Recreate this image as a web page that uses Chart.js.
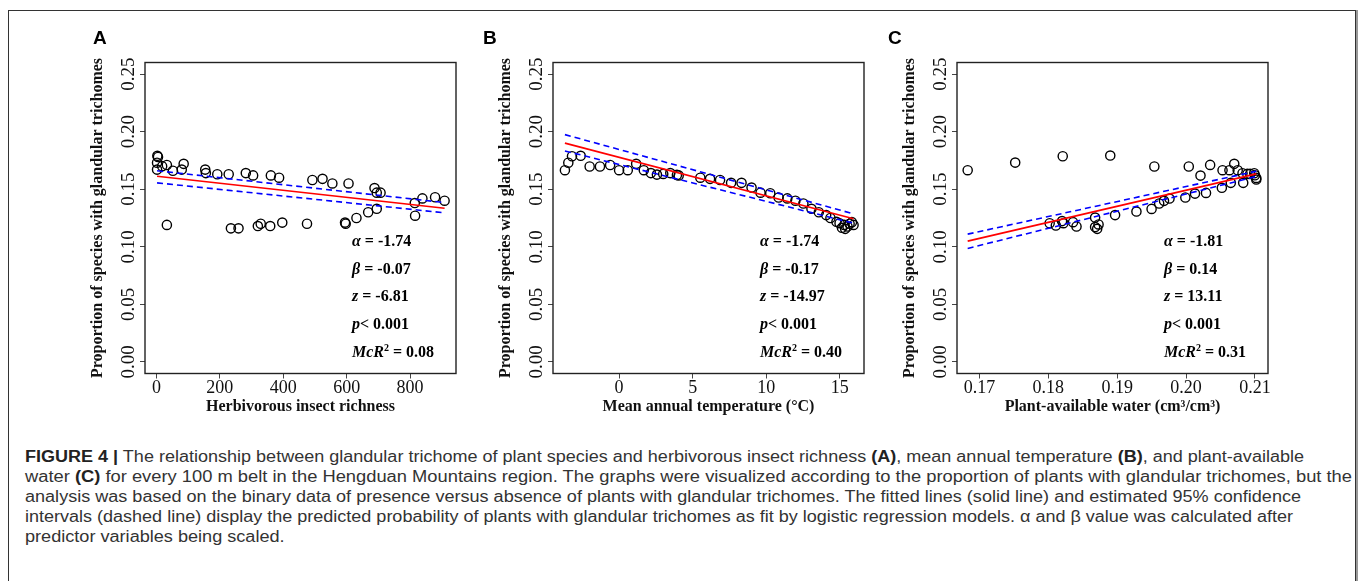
<!DOCTYPE html>
<html>
<head>
<meta charset="utf-8">
<script src="https://cdn.jsdelivr.net/npm/chart.js@4.4.1/dist/chart.umd.min.js"></script>
<style>
  body { margin: 0; width: 1358px; height: 581px; background: #fff; position: relative; overflow: hidden; }
  #frame { position: absolute; left: 8px; top: 10px; width: 1346px; height: 600px; border: 1px solid #333; box-shadow: 2px 0 0 #999; }
  canvas { position: absolute; top: 20px; }
  #caption { position: absolute; left: 25px; top: 447px; font-family: "Liberation Sans", Arial, sans-serif; font-size: 16px; line-height: 20px; color: #333; }
  #caption div { white-space: nowrap; width: max-content; transform-origin: 0 50%; }
  #caption b { color: #222; }
</style>
</head>
<body>
<div id="frame"></div>
<canvas id="panelA" width="411" height="400" style="left:55px"></canvas>
<canvas id="panelB" width="411" height="400" style="left:463px"></canvas>
<canvas id="panelC" width="411" height="400" style="left:867px"></canvas>
<div id="caption">
  <div><b>FIGURE 4 |</b> The relationship between glandular trichome of plant species and herbivorous insect richness <b>(A)</b>, mean annual temperature <b>(B)</b>, and plant-available</div>
  <div>water <b>(C)</b> for every 100 m belt in the Hengduan Mountains region. The graphs were visualized according to the proportion of plants with glandular trichomes, but the</div>
  <div>analysis was based on the binary data of presence versus absence of plants with glandular trichomes. The fitted lines (solid line) and estimated 95% confidence</div>
  <div>intervals (dashed line) display the predicted probability of plants with glandular trichomes as fit by logistic regression models. α and β value was calculated after</div>
  <div>predictor variables being scaled.</div>
</div>
<script>
// tick values
const yTicks = [0, 0.05, 0.10, 0.15, 0.20, 0.25];
const xTicksA = [0, 200, 400, 600, 800];
const xTicksB = [0, 5, 10, 15];
const xTicksC = [0.17, 0.18, 0.19, 0.20, 0.21];

// A: herbivorous insect richness
const insectRichness = [3, 5, 2, 2, 18, 33, 52, 80, 86, 33, 154, 156, 192, 228, 282, 305, 361, 387, 235, 259, 320,
  329, 359, 397, 475, 492, 524, 555, 606, 595, 597, 631, 668, 688, 695, 707, 695, 815, 816, 839, 879, 909];
const propA = [0.179, 0.178, 0.173, 0.167, 0.170, 0.171, 0.166, 0.167, 0.172, 0.119, 0.167, 0.164, 0.163, 0.163, 0.164,
  0.162, 0.162, 0.160, 0.116, 0.116, 0.118, 0.120, 0.118, 0.121, 0.120, 0.158, 0.159, 0.155, 0.155, 0.121, 0.120,
  0.125, 0.130, 0.151, 0.147, 0.147, 0.133, 0.138, 0.127, 0.142, 0.143, 0.140];
const fitXA = [2, 909];
const fitA = [0.1613, 0.1335];
const upperA = [0.1660, 0.1384];
const lowerA = [0.1555, 0.1295];

// B: mean annual temperature
const temperature = [-3.68, -3.45, -3.2, -2.61, -2.0, -1.3, -0.61, 0.0, 0.59, 1.16, 1.68, 2.16, 2.57, 3.0, 3.48, 3.93,
  4.05, 5.52, 6.18, 6.86, 7.61, 8.32, 9.0, 9.61, 10.27, 10.84, 11.43, 11.98, 12.52, 13.07, 13.57, 14.07, 14.36, 14.77,
  14.98, 15.14, 15.36, 15.52, 15.66, 15.82, 15.93, 15.3];
const propB = [0.1665, 0.173, 0.1786, 0.179, 0.1697, 0.1697, 0.171, 0.1665, 0.1665, 0.172, 0.1665, 0.164, 0.1627,
  0.1633, 0.164, 0.1624, 0.162, 0.160, 0.159, 0.158, 0.1555, 0.1555, 0.1514, 0.147, 0.1465, 0.1428, 0.142, 0.140,
  0.1376, 0.133, 0.130, 0.1275, 0.125, 0.1217, 0.1205, 0.1165, 0.1156, 0.1176, 0.120, 0.1214, 0.119, 0.119];
const fitXB = [-3.68, 15.93];
const fitB = [0.1900, 0.1243];
const upperB = [0.1974, 0.1286];
const lowerB = [0.1832, 0.1205];

// C: plant-available water
const water = [0.1683, 0.1752, 0.1821, 0.1890, 0.1954, 0.2004, 0.2021, 0.2035, 0.2053, 0.2063, 0.2070, 0.2075,
  0.2082, 0.2093, 0.2099, 0.2100, 0.2102, 0.2102, 0.2083, 0.2065, 0.2052, 0.2029, 0.2013, 0.1999, 0.1976, 0.1968,
  0.1961, 0.1950, 0.1928, 0.1897, 0.1868, 0.1873, 0.1868, 0.1871, 0.1841, 0.1836, 0.1822, 0.1820, 0.1811, 0.1802,
  0.2089];
const propC = [0.1665, 0.1731, 0.1786, 0.1792, 0.1697, 0.1697, 0.1618, 0.1711, 0.1665, 0.1665, 0.1720, 0.1665,
  0.1639, 0.1633, 0.1639, 0.1621, 0.1598, 0.1584, 0.1555, 0.1555, 0.1512, 0.1468, 0.1462, 0.1428, 0.1419, 0.1399,
  0.1376, 0.1329, 0.1306, 0.1275, 0.1254, 0.1194, 0.1171, 0.1156, 0.1176, 0.1214, 0.1205, 0.1223, 0.1185, 0.1205,
  0.1633];
const fitXC = [0.1683, 0.2102];
const fitC = [0.1049, 0.1633];
const upperC = [0.1110, 0.1656];
const lowerC = [0.0986, 0.1610];

// model statistics
const statsA = ['-1.74', '-0.07', '-6.81', '0.001', '0.08'];
const statsB = ['-1.74', '-0.17', '-14.97', '0.001', '0.40'];
const statsC = ['-1.81', '0.14', '13.11', '0.001', '0.31'];

const yTitle = 'Proportion of species with glandular trichomes';

const serif = '"Liberation Serif", "Times New Roman", serif';

function pts(xs, ys) {
  return xs.map((x, i) => ({ x: x, y: ys[i] }));
}

// box, rotated y labels, titles, panel letter and stats text
const panelDecor = {
  id: 'panelDecor',
  afterDraw(chart, args, o) {
    const ctx = chart.ctx, a = chart.chartArea, ys = chart.scales.y;
    ctx.save();
    ctx.strokeStyle = '#222';
    ctx.lineWidth = 1.4;
    ctx.strokeRect(a.left, a.top, a.right - a.left, a.bottom - a.top);

    ctx.fillStyle = '#111';
    ctx.textAlign = 'center';
    ctx.textBaseline = 'middle';
    ctx.font = '19px ' + serif;
    ys.ticks.forEach(t => {
      ctx.save();
      ctx.translate(a.left - 16, ys.getPixelForValue(t.value));
      ctx.rotate(-Math.PI / 2);
      ctx.fillText(t.value.toFixed(2), 0, 0);
      ctx.restore();
    });

    ctx.font = 'bold 16px ' + serif;
    ctx.save();
    ctx.translate(a.left - 47, (a.top + a.bottom) / 2);
    ctx.rotate(-Math.PI / 2);
    ctx.fillText(yTitle, 0, 0);
    ctx.restore();
    ctx.fillText(o.xTitle, (a.left + a.right) / 2, a.bottom + 33);

    ctx.textAlign = 'left';
    ctx.textBaseline = 'alphabetic';
    ctx.font = 'bold 19px "Liberation Sans", Arial, sans-serif';
    ctx.fillStyle = '#000';
    ctx.fillText(o.letter, a.left + o.letterDx, a.top - 19);

    const s = o.stats;
    const rows = [
      [['α', 1], [' = ' + s[0], 0]],
      [['β', 1], [' = ' + s[1], 0]],
      [['z', 1], [' = ' + s[2], 0]],
      [['p', 1], ['< ' + s[3], 0]],
      [['McR', 1], ['2', 2], [' = ' + s[4], 0]]
    ];
    ctx.textBaseline = 'middle';
    rows.forEach((row, i) => {
      let x = a.right - 104;
      const y = a.top + 179 + i * 27.9;
      row.forEach(([t, kind]) => {
        ctx.font = (kind === 1 ? 'italic bold 16px ' : kind === 2 ? 'bold 10px ' : 'bold 16px ') + serif;
        ctx.fillText(t, x, kind === 2 ? y - 5 : y);
        x += ctx.measureText(t).width;
      });
    });
    ctx.restore();
  }
};

function makePanel(id, cfg) {
  new Chart(document.getElementById(id), {
    type: 'scatter',
    data: {
      datasets: [
        { data: pts(cfg.fitX, cfg.fit), showLine: true, pointRadius: 0, borderColor: '#ff0000', borderWidth: 1.6, order: 0 },
        { data: pts(cfg.fitX, cfg.upper), showLine: true, pointRadius: 0, borderColor: '#0000ff', borderWidth: 1.6, borderDash: [6, 4], order: 1 },
        { data: pts(cfg.fitX, cfg.lower), showLine: true, pointRadius: 0, borderColor: '#0000ff', borderWidth: 1.6, borderDash: [6, 4], order: 1 },
        { data: pts(cfg.xs, cfg.ys), pointRadius: 4.6, pointBorderWidth: 1.4, borderColor: '#000', backgroundColor: 'rgba(0,0,0,0)', order: 2 }
      ]
    },
    options: {
      responsive: false,
      animation: false,
      devicePixelRatio: 1,
      layout: { padding: { top: 42.5, left: 0, right: 10, bottom: 0 } },
      plugins: {
        legend: { display: false },
        tooltip: { enabled: false },
        panelDecor: { letter: cfg.letter, letterDx: cfg.letterDx, xTitle: cfg.xTitle, stats: cfg.stats }
      },
      scales: {
        x: {
          type: 'linear',
          min: cfg.xMin,
          max: cfg.xMax,
          afterBuildTicks: s => { s.ticks = cfg.xTicks.map(v => ({ value: v })); },
          afterFit: s => { s.height = 46.5; },
          border: { display: false },
          grid: { drawOnChartArea: false, tickLength: 5, color: '#444' },
          ticks: {
            font: { family: serif, size: 18 },
            color: '#111',
            padding: -1,
            maxRotation: 0,
            autoSkip: false,
            callback: v => cfg.fmt(v)
          }
        },
        y: {
          min: -0.01,
          max: 0.26,
          afterBuildTicks: s => { s.ticks = yTicks.map(v => ({ value: v })); },
          afterFit: s => { s.width = 90; },
          border: { display: false },
          grid: { drawOnChartArea: false, tickLength: 5, color: '#444' },
          ticks: { color: 'rgba(0,0,0,0)', callback: v => v.toFixed(2) }
        }
      }
    },
    plugins: [panelDecor]
  });
}

makePanel('panelA', {
  xs: insectRichness, ys: propA, fitX: fitXA, fit: fitA, upper: upperA, lower: lowerA,
  xMin: -36, xMax: 945, xTicks: xTicksA, fmt: v => String(v),
  letter: 'A', letterDx: -52, xTitle: 'Herbivorous insect richness', stats: statsA
});
makePanel('panelB', {
  xs: temperature, ys: propB, fitX: fitXB, fit: fitB, upper: upperB, lower: lowerB,
  xMin: -4.49, xMax: 16.64, xTicks: xTicksB, fmt: v => String(v),
  letter: 'B', letterDx: -70, xTitle: 'Mean annual temperature (°C)', stats: statsB
});
makePanel('panelC', {
  xs: water, ys: propC, fitX: fitXC, fit: fitC, upper: upperC, lower: lowerC,
  xMin: 0.16675, xMax: 0.2119, xTicks: xTicksC, fmt: v => v.toFixed(2),
  letter: 'C', letterDx: -69, xTitle: 'Plant-available water (cm³/cm³)', stats: statsC
});

// stretch the full caption lines to the width they have in the figure;
// the short last line gets the average stretch of the others
const capWidths = [1279, 1327, 1276, 1268];
const capLines = document.querySelectorAll('#caption div');
let sum = 0;
capWidths.forEach((target, i) => {
  const k = target / capLines[i].getBoundingClientRect().width;
  capLines[i].style.transform = 'scaleX(' + k + ')';
  sum += k;
});
capLines[4].style.transform = 'scaleX(' + (sum / capWidths.length) + ')';
</script>
</body>
</html>
